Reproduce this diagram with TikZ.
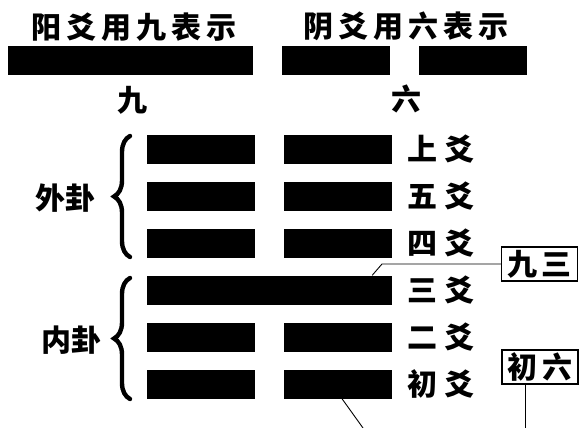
\documentclass[tikz,border=0pt]{standalone}
\usepackage{fontspec}
\usepackage{tikz}
\usetikzlibrary{decorations.pathreplacing}
\newfontfamily\yaofont{Noto Sans CJK SC}
\tikzset{
  yangbar/.style={fill=black, inner sep=0pt, minimum width=245pt, minimum height=29pt},
  yinbar/.style={fill=black, inner sep=0pt, minimum width=108pt, minimum height=29pt},
  yaotext/.style={inner sep=0pt, font=\yaofont\bfseries\fontsize{30}{30}\selectfont\addfontfeatures{LetterSpace=17}},
  labtext/.style={inner sep=0pt, font=\yaofont\bfseries\fontsize{30}{30}\selectfont\addfontfeatures{LetterSpace=23}},
  guatext/.style={inner sep=0pt, font=\yaofont\bfseries\fontsize{30}{30}\selectfont},
  tagbox/.style={draw, line width=1.1pt, inner sep=0pt, minimum width=76pt, minimum height=34pt,
    font=\yaofont\bfseries\fontsize{30}{30}\selectfont\addfontfeatures{LetterSpace=14}},
  gua@brace/.style={decorate, decoration={brace, amplitude=16pt}, line width=4.4pt, line cap=round},
  leader/.style={line width=0.9pt},
}

\begin{document}
\begin{tikzpicture}[x=1pt, y=-1pt]
\useasboundingbox (0,0) rectangle (581,428);

% legend
\begin{scope}
  \node[yaotext] (yangtitle) at (134,27) {阳爻用九表示};
  \node[yaotext] (yintitle) at (406,26) {阴爻用六表示};

  \node[yangbar] (yangkey) at (130.5,61) {};
  \node[yinbar] (yinkeyL) at (336,61) {};
  \node[yinbar] (yinkeyR) at (472.5,61) {};

  \node[guatext] (jiu) at (132,100) {九};
  \node[guatext] (liu) at (406,99) {六};
\end{scope}

% hexagram
\begin{scope}
  % 上爻
  \node[yinbar] (yao6L) at (201,149) {};
  \node[yinbar] (yao6R) at (337.5,149) {};
  \node[labtext] (lab6) at (441,149) {上爻};

  % 五爻
  \node[yinbar] (yao5L) at (201,196) {};
  \node[yinbar] (yao5R) at (337.5,196) {};
  \node[labtext] (lab5) at (441,196) {五爻};

  % 四爻
  \node[yinbar] (yao4L) at (201,243) {};
  \node[yinbar] (yao4R) at (337.5,243) {};
  \node[labtext] (lab4) at (441,243) {四爻};

  % 三爻
  \node[yangbar] (yao3) at (269.5,290) {};
  \node[labtext] (lab3) at (441,290) {三爻};

  % 二爻
  \node[yinbar] (yao2L) at (201,337) {};
  \node[yinbar] (yao2R) at (337.5,337) {};
  \node[labtext] (lab2) at (441,337) {二爻};

  % 初爻
  \node[yinbar] (yao1L) at (201,384) {};
  \node[yinbar] (yao1R) at (337.5,384) {};
  \node[labtext] (lab1) at (441,384) {初爻};

  \draw[gua@brace] (130,257) -- (130,136);
  \node[guatext] (waigua) at (65,198) {外卦};
  \draw[gua@brace] (130,399) -- (130,278);
  \node[guatext] (neigua) at (71,340) {内卦};
\end{scope}

% tags
\node[tagbox] (jiusan) at (539.5,264) {九三};
\coordinate (kink3) at (382,264);
\draw[leader] (jiusan.west) -- (kink3) -- ([xshift=-20pt]yao3.north east);

\node[tagbox] (chuliu) at (540,367) {初六};
\coordinate (cutA) at (363,428);
\coordinate (cutB) at (525,428);
\draw[leader] ([xshift=4.5pt]yao1R.south) -- (cutA);
\draw[leader] ([xshift=-15pt]chuliu.south) -- (cutB);

\end{tikzpicture}
\end{document}
